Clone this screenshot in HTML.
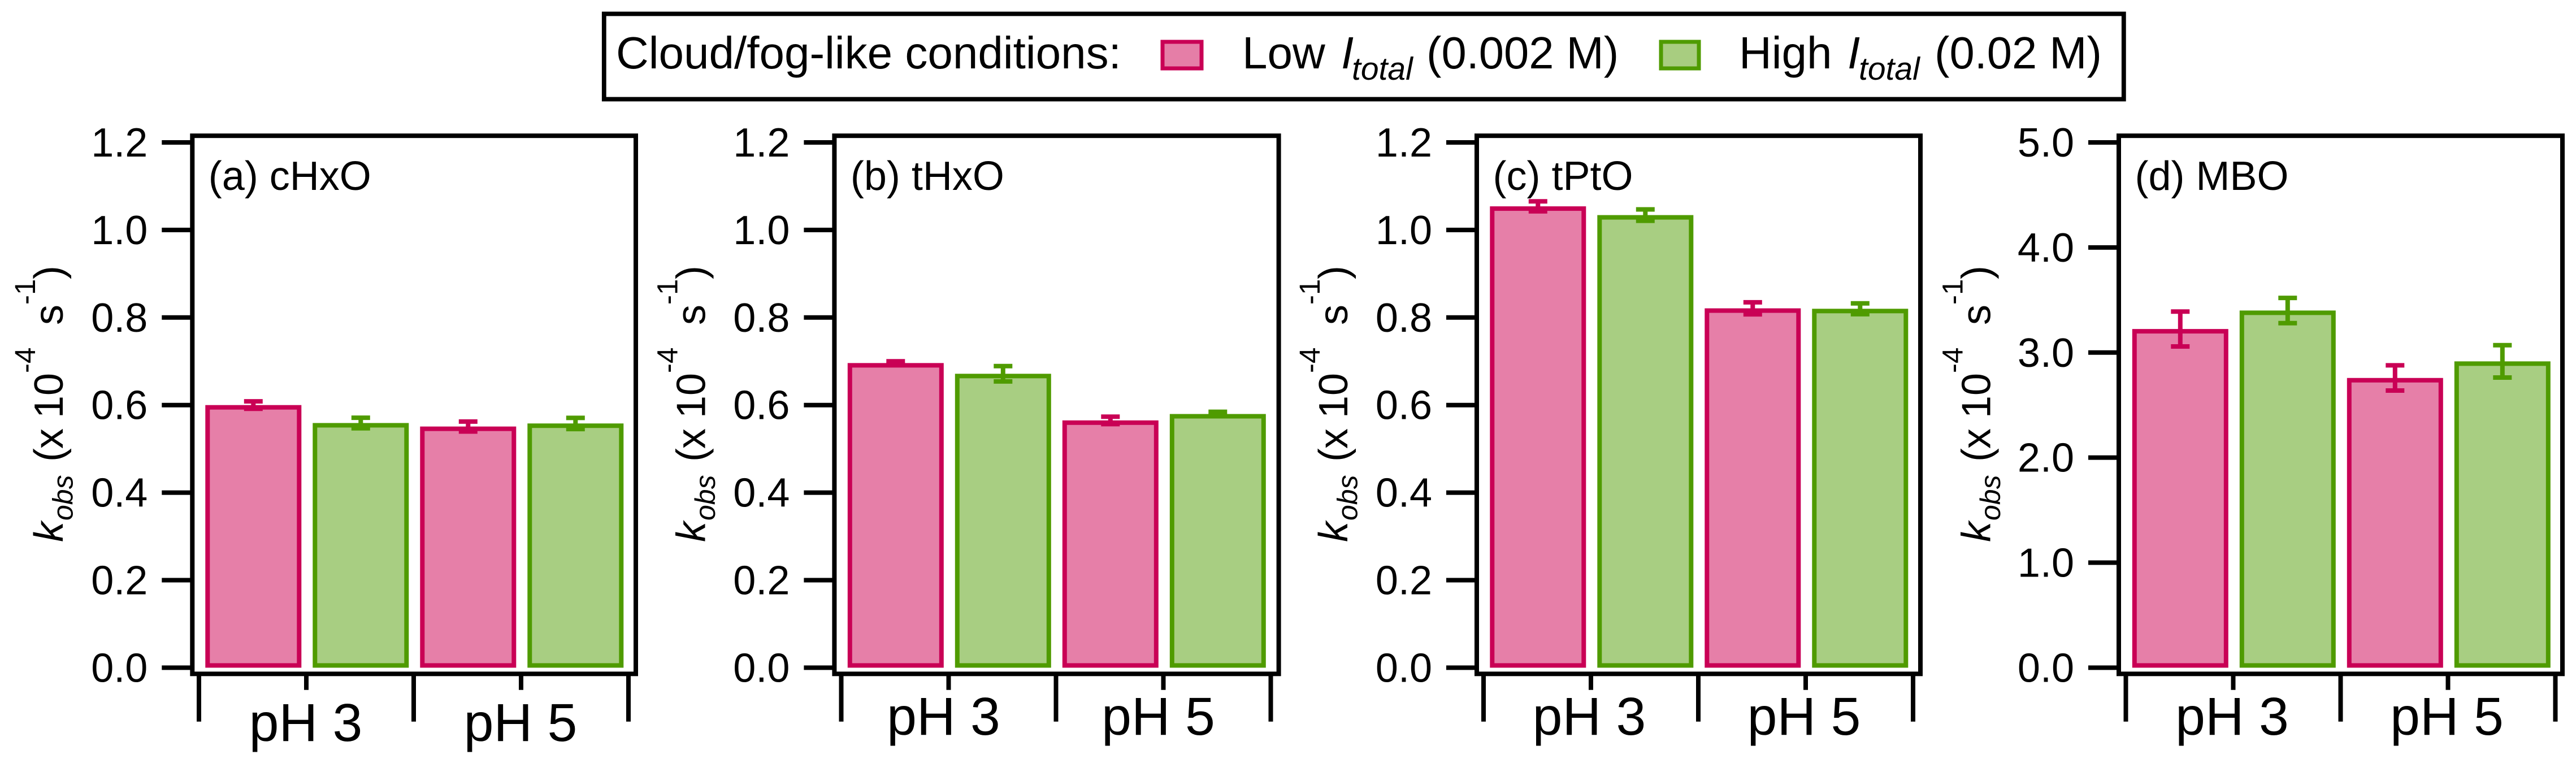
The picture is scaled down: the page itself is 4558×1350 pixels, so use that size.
<!DOCTYPE html>
<html lang="en">
<head>
<meta charset="utf-8">
<title>Cloud/fog-like conditions kobs bar charts</title>
<style>
html,body{margin:0;padding:0;background:#fff;}
body{width:4558px;height:1350px;overflow:hidden;}
svg{display:block;font-family:"Liberation Sans",Arial,sans-serif;fill:#000;}
</style>
</head>
<body>
<svg id="figure" xmlns="http://www.w3.org/2000/svg" width="4558" height="1350" viewBox="0 0 4558 1350">
  <rect x="0" y="0" width="4558" height="1350" fill="#ffffff"/>
  <g id="legend">
    <rect x="1068.8" y="24.5" width="2689" height="151" fill="#ffffff" stroke="#000000" stroke-width="7.8"/>
    <text x="1090" y="121" font-size="80">Cloud/fog-like conditions:</text>
    <rect x="2057" y="74" width="69" height="47" fill="#e57ea7" stroke="#c90055" stroke-width="7"/>
    <text x="2198" y="121" font-size="80">Low</text>
    <text x="2373" y="121" font-size="80" font-style="italic">I</text>
    <text x="2392" y="141" font-size="57" font-style="italic">total</text>
    <text x="2524" y="121" font-size="79.5">(0.002 M)</text>
    <rect x="2939" y="74" width="67" height="47" fill="#a8cd80" stroke="#4f9b00" stroke-width="7"/>
    <text x="3077" y="121" font-size="80">High</text>
    <text x="3269" y="121" font-size="80" font-style="italic">I</text>
    <text x="3289" y="141" font-size="57" font-style="italic">total</text>
    <text x="3423" y="121" font-size="79.5">(0.02 M)</text>
  </g>
</svg>
<script>
// ---- chart data ----
const phCategories = ["pH 3", "pH 5"];
const seriesNames = ["low", "high"];
const panelLetters = ["a", "b", "c", "d"];

const cHxOValues = [0.600, 0.559, 0.551, 0.558];
const cHxOErrors = [0.0085, 0.012, 0.0114, 0.0128];
const tHxOValues = [0.696, 0.6715, 0.565, 0.5796];
const tHxOErrors = [0.004, 0.0175, 0.0085, 0.005];
const tPtOValues = [1.054, 1.034, 0.821, 0.820];
const tPtOErrors = [0.0114, 0.013, 0.0137, 0.0123];
const mboValues = [3.224, 3.40, 2.758, 2.916];
const mboErrors = [0.166, 0.12, 0.12, 0.154];

const ticksFine = ["0.0", "0.2", "0.4", "0.6", "0.8", "1.0", "1.2"];
const ticksCoarse = ["0.0", "1.0", "2.0", "3.0", "4.0", "5.0"];

// ---- drawing ----
const NS = "http://www.w3.org/2000/svg";
const svg = document.getElementById("figure");
const STROKE = { low: "#c90055", high: "#4f9b00" };
const FILL = { low: "#e67fa8", high: "#a8ce82" };
const FRAME_TOP = 240.2, FRAME_BOTTOM = 1192.3;
const Y_ZERO = 1181.4, Y_MAX = 252;
const LINE = 8;
const SLOT = 190;
const BAR_WIDTH = 170;

function make(parent, tag, attrs, text) {
  const el = document.createElementNS(NS, tag);
  for (const k in attrs) el.setAttribute(k, attrs[k]);
  if (text !== undefined) el.textContent = text;
  parent.appendChild(el);
  return el;
}

function drawPanel(index, title, values, errors, tickLabels, geo) {
  const key = panelLetters[index];
  const maxValue = parseFloat(tickLabels[tickLabels.length - 1]);
  const yScale = v => Y_ZERO - (v / maxValue) * (Y_ZERO - Y_MAX);
  const xTick = i => geo.firstTick + i * SLOT;
  const barCenter = i => xTick(0) + (i + 0.5) * SLOT + 1.3;

  const g = make(svg, "g", {});
  
  

  // bars and error bars
  values.forEach((v, i) => {
    const s = seriesNames[i % 2];
    const cx = barCenter(i);
    const top = yScale(v);
    const bar = make(g, "rect", {
      x: cx - BAR_WIDTH / 2 + 4, y: top + 4,
      width: BAR_WIDTH - 8, height: Math.max(0, Y_ZERO - top - 8),
      fill: FILL[s], stroke: STROKE[s], "stroke-width": LINE
    });
    
    

    const hi = yScale(v + errors[i]);
    const lo = yScale(v - errors[i]);
    const eg = make(g, "g", { stroke: STROKE[s], "stroke-width": LINE, fill: "none" });
    
    
    make(eg, "line", { x1: cx, x2: cx, y1: hi, y2: lo });
    make(eg, "line", { x1: cx - 16.5, x2: cx + 16.5, y1: hi, y2: hi });
    make(eg, "line", { x1: cx - 16.5, x2: cx + 16.5, y1: lo, y2: lo });
  });

  // frame
  const frame = make(g, "rect", {
    x: geo.left, y: FRAME_TOP, width: geo.right - geo.left, height: FRAME_BOTTOM - FRAME_TOP,
    fill: "none", stroke: "#000", "stroke-width": LINE
  });
  
  

  // y axis
  tickLabels.forEach(lbl => {
    const y = yScale(parseFloat(lbl));
    const tick = make(g, "line", { x1: geo.left - 54, x2: geo.left, y1: y, y2: y, stroke: "#000", "stroke-width": LINE });
    
    
    const t = make(g, "text", { x: geo.left - 79, y: y + 25, "font-size": 72, "text-anchor": "end" }, lbl);
    
    
  });

  // x axis ticks
  for (let i = 0; i <= 4; i++) {
    const major = i % 2 === 0;
    const x = xTick(i);
    const tick = make(g, "line", { x1: x, x2: x, y1: FRAME_BOTTOM, y2: major ? 1276.7 : 1220.7, stroke: "#000", "stroke-width": LINE });
    
    
  }
  phCategories.forEach((c, i) => {
    const t = make(g, "text", { x: xTick(2 * i + 1) + geo.labelShift, y: geo.labelBase, "font-size": 95, "text-anchor": "middle" }, c);
    
    
  });

  // panel title
  const pt = make(g, "text", { x: geo.left + 28.5, y: 336, "font-size": 72 }, title);
  
  

  // y axis title: rotated group, offsets measured upward from the base of the "k"
  const yt = make(g, "g", { transform: "translate(" + geo.titleX + ",959) rotate(-90)" });
  
  
  make(yt, "text", { x: 0, y: 0, "font-size": 72, "font-style": "italic" }, "k");
  make(yt, "text", { x: 38, y: 17.5, "font-size": 50, "font-style": "italic" }, "obs");
  make(yt, "text", { x: 142, y: 0, "font-size": 72 }, "(");
  make(yt, "text", { x: 165, y: 0, "font-size": 72 }, "x");
  make(yt, "text", { x: 219, y: 0, "font-size": 72 }, "10");
  make(yt, "text", { x: 299, y: -49, "font-size": 51 }, "-4");
  make(yt, "text", { x: 384, y: 0, "font-size": 72 }, "s");
  make(yt, "text", { x: 420, y: -49, "font-size": 51 }, "-1");
  make(yt, "text", { x: 465, y: 0, "font-size": 72 }, ")");
}

drawPanel(0, "(a) cHxO", cHxOValues, cHxOErrors, ticksFine,
  { left: 340.3, right: 1125, firstTick: 352, labelShift: -1, labelBase: 1311, titleX: 111 });
drawPanel(1, "(b) tHxO", tHxOValues, tHxOErrors, ticksFine,
  { left: 1476.4, right: 2262.6, firstTick: 1488.5, labelShift: -9, labelBase: 1300, titleX: 1247.3 });
drawPanel(2, "(c) tPtO", tPtOValues, tPtOErrors, ticksFine,
  { left: 2613, right: 3398, firstTick: 2625, labelShift: -3, labelBase: 1300, titleX: 2384 });
drawPanel(3, "(d) MBO", mboValues, mboErrors, ticksCoarse,
  { left: 3749, right: 4534, firstTick: 3761.5, labelShift: -2, labelBase: 1300, titleX: 3521.7 });
</script>
</body>
</html>
